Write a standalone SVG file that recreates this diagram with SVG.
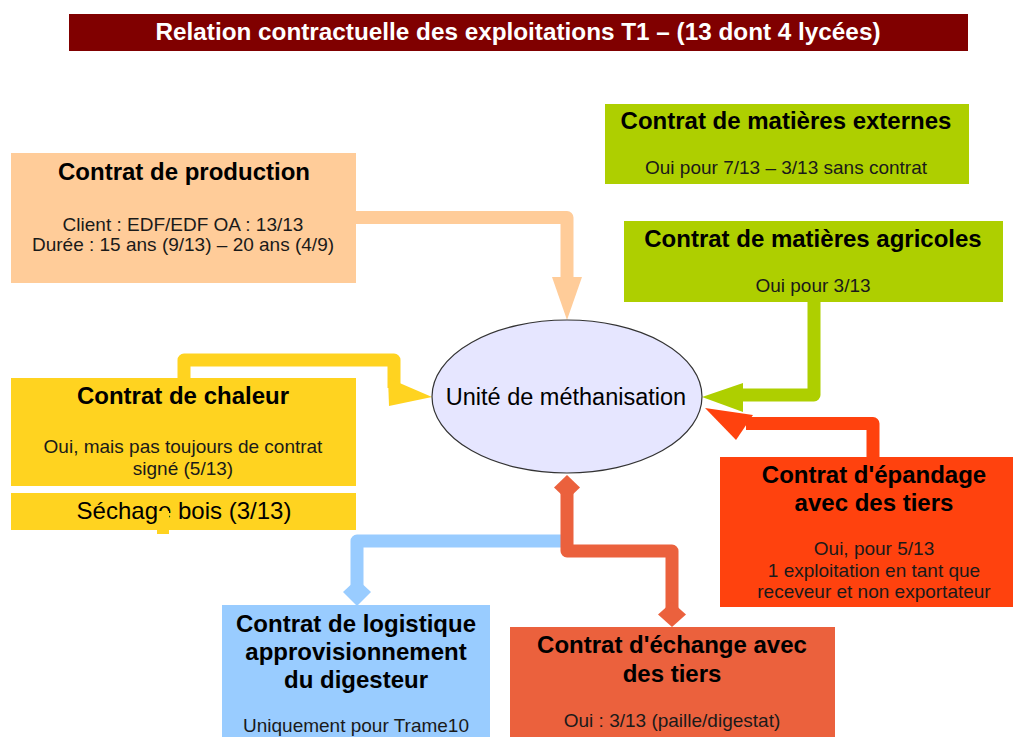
<svg xmlns="http://www.w3.org/2000/svg" width="1013" height="737" viewBox="0 0 1013 737">
<style>
text{font-family:"Liberation Sans",Arial,sans-serif;text-anchor:middle}
.t{font-size:24px;font-weight:bold;fill:#000}
.b{font-size:19px;fill:#1a1a1a}
.c{fill:none;stroke-width:13;stroke-linejoin:round;stroke-linecap:butt}
</style>
<rect x="0" y="0" width="1013" height="737" fill="#fff"/>
<g id="title">
<rect x="69" y="14" width="899" height="37" fill="#800000"/>
<text x="518" y="40" style="font-size:23px;font-weight:bold;fill:#fff" textLength="725" lengthAdjust="spacingAndGlyphs">Relation contractuelle des exploitations T1 – (13 dont 4 lycées)</text>
</g>
<g id="connectors">
<path class="c" stroke="#FFCC99" d="M356,217.5 H567 V280"/>
<polygon points="552,277 582,277 567,320" fill="#FFCC99"/>
<path class="c" stroke="#FFD320" d="M184,378 V360 H394 V388"/>
<polygon points="388,378 432,397 389,406" fill="#FFD320"/>
<path class="c" stroke="#AECF00" d="M814,300 V395 H740"/>
<polygon points="743,383 743,412 702,397" fill="#AECF00"/>
<path class="c" stroke="#FF420E" d="M873,457 V423.5 H746"/>
<polygon points="705,408 753,415 736,440" fill="#FF420E"/>
<path class="c" stroke="#99CCFF" d="M357,590 V541 H567"/>
<polygon points="357,579 371,592 357,606 343,592" fill="#99CCFF"/>
<path class="c" stroke="#EB613D" d="M567,490 V551 H672 V612"/>
<polygon points="567,475 580,487.5 567,500 554,487.5" fill="#EB613D"/>
<polygon points="672,602 686,614.5 672,627 658,614.5" fill="#EB613D"/>
</g>
<g id="production">
<rect x="11" y="153" width="345" height="130" fill="#FFCC99"/>
<text class="t" x="184" y="180">Contrat de production</text>
<text class="b" x="183" y="231">Client : EDF/EDF OA : 13/13</text>
<text class="b" x="183" y="251">Durée : 15 ans (9/13) – 20 ans (4/9)</text>
</g>
<g id="chaleur">
<rect x="11" y="378" width="345" height="108" fill="#FFD320"/>
<text class="t" x="183" y="404">Contrat de chaleur</text>
<text class="b" x="183" y="453">Oui, mais pas toujours de contrat</text>
<text class="b" x="183" y="475">signé (5/13)</text>
</g>
<g id="sechage">
<rect x="11" y="493" width="345" height="37" fill="#FFD320"/>
<text x="184" y="519" style="font-size:24px;fill:#000">Séchage bois (3/13)</text>
<rect x="157" y="511" width="12" height="23" fill="#FFD320"/>
</g>
<g id="unite">
<ellipse cx="567" cy="396.5" rx="135" ry="76.5" fill="#E6E6FF" stroke="#333" stroke-width="1.2"/>
<text x="566" y="405" style="font-size:23.5px;fill:#000">Unité de méthanisation</text>
</g>
<g id="externes">
<rect x="605" y="104" width="364" height="80" fill="#AECF00"/>
<text class="t" x="786" y="129">Contrat de matières externes</text>
<text class="b" x="786" y="174">Oui pour 7/13 – 3/13 sans contrat</text>
</g>
<g id="agricoles">
<rect x="624" y="221" width="379" height="81" fill="#AECF00"/>
<text class="t" x="813" y="247">Contrat de matières agricoles</text>
<text class="b" x="813" y="292">Oui pour 3/13</text>
</g>
<g id="epandage">
<rect x="720" y="457" width="308" height="150" fill="#FF420E"/>
<text class="t" x="874" y="483">Contrat d'épandage</text>
<text class="t" x="874" y="511">avec des tiers</text>
<text class="b" x="874" y="555">Oui, pour 5/13</text>
<text class="b" x="874" y="577">1 exploitation en tant que</text>
<text class="b" x="874" y="598">receveur et non exportateur</text>
</g>
<g id="logistique">
<rect x="222" y="605" width="268" height="132" fill="#99CCFF"/>
<text class="t" x="356" y="632">Contrat de logistique</text>
<text class="t" x="356" y="660">approvisionnement</text>
<text class="t" x="356" y="688">du digesteur</text>
<text class="b" x="356" y="732">Uniquement pour Trame10</text>
</g>
<g id="echange">
<rect x="510" y="627" width="325" height="110" fill="#EB613D"/>
<text class="t" x="672" y="653">Contrat d'échange avec</text>
<text class="t" x="672" y="682">des tiers</text>
<text class="b" x="672" y="727">Oui : 3/13 (paille/digestat)</text>
</g>
</svg>
